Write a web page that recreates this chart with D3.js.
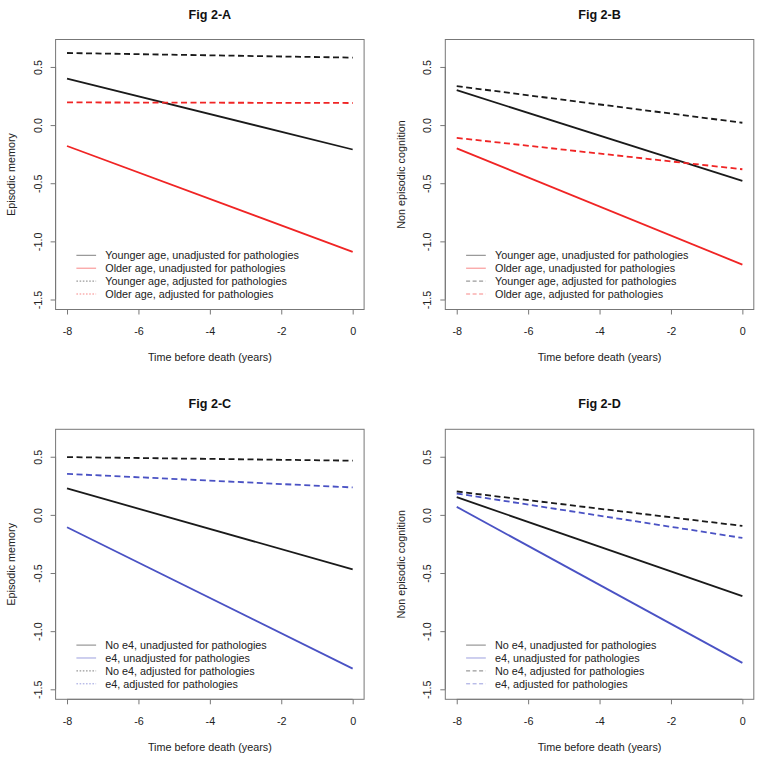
<!DOCTYPE html>
<html>
<head>
<meta charset="utf-8">
<script src="https://cdn.jsdelivr.net/npm/d3@7"></script>
<style>
  html, body { margin: 0; padding: 0; background: #fff; }
  svg { display: block; font-family: "Liberation Sans", Arial, sans-serif; }
</style>
</head>
<body>
<svg id="chart" width="762" height="761"></svg>
<script>
// ---------- data ----------
const timeYears = [-8, 0];
const xTicks = [-8, -6, -4, -2, 0];
const yTicks = [-1.5, -1.0, -0.5, 0.0, 0.5];
const xTickLabels = ["-8", "-6", "-4", "-2", "0"];
const yTickLabels = ["-1.5", "-1.0", "-0.5", "0.0", "0.5"];

const panelTitles = ["Fig 2-A", "Fig 2-B", "Fig 2-C", "Fig 2-D"];
const yLabels = ["Episodic memory", "Non episodic cognition", "Episodic memory", "Non episodic cognition"];
const xLabel = "Time before death (years)";

const ageLegend = ["Younger age, unadjusted for pathologies", "Older age, unadjusted for pathologies",
                   "Younger age, adjusted for pathologies", "Older age, adjusted for pathologies"];
const e4Legend = ["No e4, unadjusted for pathologies", "e4, unadjusted for pathologies",
                  "No e4, adjusted for pathologies", "e4, adjusted for pathologies"];

// Panel A (episodic memory by age)
const youngerUnadjA = [0.40, -0.21];
const olderUnadjA   = [-0.18, -1.09];
const youngerAdjA   = [0.62, 0.58];
const olderAdjA     = [0.195, 0.19];
// Panel B (non episodic cognition by age)
const youngerUnadjB = [0.30, -0.48];
const olderUnadjB   = [-0.20, -1.20];
const youngerAdjB   = [0.335, 0.02];
const olderAdjB     = [-0.11, -0.38];
// Panel C (episodic memory by e4)
const noE4UnadjC = [0.227, -0.468];
const e4UnadjC   = [-0.106, -1.322];
const noE4AdjC   = [0.497, 0.466];
const e4AdjC     = [0.353, 0.236];
// Panel D (non episodic cognition by e4)
const noE4UnadjD = [0.152, -0.698];
const e4UnadjD   = [0.069, -1.273];
const noE4AdjD   = [0.201, -0.095];
const e4AdjD     = [0.184, -0.198];

// ---------- styling / layout ----------
const RED = "#f02424", BLACK = "#1a1a1a", BLUE = "#4a52c4";
const xDomain = [-8.32, 0.32];
const yDomain = [-1.586, 0.736];
const plotW = 308.5, plotH = 270;
const panels = [
  { left: 55.6,  top: 39.5,  title: panelTitles[0], ylab: yLabels[0], legend: ageLegend, legendDash: "1.6,1.6",
    series: [youngerUnadjA, olderUnadjA, youngerAdjA, olderAdjA], colors: [BLACK, RED, BLACK, RED] },
  { left: 445.3, top: 39.5,  title: panelTitles[1], ylab: yLabels[1], legend: ageLegend, legendDash: "4,2.5",
    series: [youngerUnadjB, olderUnadjB, youngerAdjB, olderAdjB], colors: [BLACK, RED, BLACK, RED] },
  { left: 55.6,  top: 429.3, title: panelTitles[2], ylab: yLabels[2], legend: e4Legend, legendDash: "1.6,1.6",
    series: [noE4UnadjC, e4UnadjC, noE4AdjC, e4AdjC], colors: [BLACK, BLUE, BLACK, BLUE] },
  { left: 445.3, top: 429.3, title: panelTitles[3], ylab: yLabels[3], legend: e4Legend, legendDash: "4,2.5",
    series: [noE4UnadjD, e4UnadjD, noE4AdjD, e4AdjD], colors: [BLACK, BLUE, BLACK, BLUE] }
];
const dashed = [false, false, true, true];

const svg = d3.select("#chart");

panels.forEach(p => {
  const g = svg.append("g").attr("transform", `translate(${p.left},${p.top})`);
  const x = d3.scaleLinear().domain(xDomain).range([0, plotW]);
  const y = d3.scaleLinear().domain(yDomain).range([plotH, 0]);

  // lines
  const line = d3.line().x(d => x(d[0])).y(d => y(d[1]));
  p.series.forEach((vals, i) => {
    g.append("path")
      .datum(timeYears.map((t, k) => [t, vals[k]]))
      .attr("d", line)
      .attr("fill", "none")
      .attr("stroke", p.colors[i])
      .attr("stroke-width", 1.8)
      .attr("stroke-dasharray", dashed[i] ? "6,3.5" : null);
  });

  // box
  g.append("rect").attr("x", 0).attr("y", 0).attr("width", plotW).attr("height", plotH)
    .attr("fill", "none").attr("stroke", "#777").attr("stroke-width", 1);

  // x axis
  const xa = g.append("g").attr("transform", `translate(0,${plotH})`)
    .call(d3.axisBottom(x).tickValues(xTicks).tickFormat((d, i) => xTickLabels[i]).tickSize(5).tickPadding(13));
  xa.select(".domain").attr("d", `M${x(xTicks[0])},0H${x(xTicks[xTicks.length - 1])}`).attr("stroke", "#777");
  xa.selectAll(".tick line").attr("stroke", "#777");
  xa.selectAll("text").attr("font-size", 10.8).attr("fill", "#222").attr("font-family", null);

  // y axis
  const ya = g.append("g")
    .call(d3.axisLeft(y).tickValues(yTicks).tickFormat((d, i) => yTickLabels[i]).tickSize(5));
  ya.select(".domain").attr("d", `M0,${y(yTicks[0])}V${y(yTicks[yTicks.length - 1])}`).attr("stroke", "#777");
  ya.selectAll(".tick line").attr("stroke", "#777");
  ya.selectAll("text")
    .attr("x", null).attr("dy", null)
    .attr("transform", "translate(-14,0) rotate(-90)")
    .attr("text-anchor", "middle")
    .attr("font-size", 10.8).attr("fill", "#222").attr("font-family", null);

  // title
  g.append("text").attr("x", plotW / 2).attr("y", -21).attr("text-anchor", "middle")
    .attr("font-size", 12.6).attr("font-weight", "bold").attr("fill", "#111").text(p.title);

  // x label
  g.append("text").attr("x", plotW / 2).attr("y", plotH + 51.5).attr("text-anchor", "middle")
    .attr("font-size", 10.8).attr("fill", "#222").text(xLabel);

  // y label
  g.append("text").attr("transform", `translate(-40.5,${plotH / 2}) rotate(-90)`).attr("text-anchor", "middle")
    .attr("font-size", 10.8).attr("fill", "#222").text(p.ylab);

  // legend
  const lg = g.append("g").attr("transform", `translate(0,${plotH - 54.2})`);
  p.legend.forEach((lab, i) => {
    const yy = i * 12.9;
    lg.append("line").attr("x1", 20.8).attr("x2", 40.5).attr("y1", yy).attr("y2", yy)
      .attr("stroke", p.colors[i]).attr("stroke-opacity", 0.55).attr("stroke-width", 1)
      .attr("stroke-dasharray", dashed[i] ? p.legendDash : null);
    lg.append("text").attr("x", 49.7).attr("y", yy + 3.9).attr("font-size", 10.8).attr("fill", "#222").text(lab);
  });
});
</script>
</body>
</html>
